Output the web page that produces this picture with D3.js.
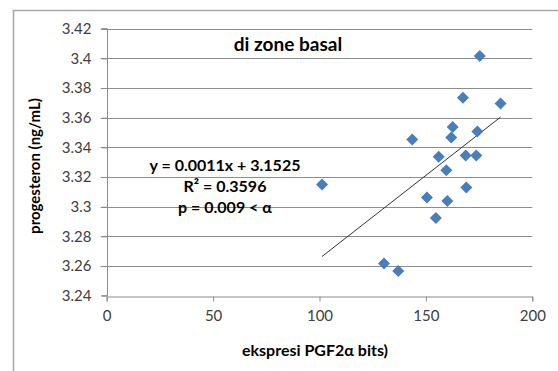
<!DOCTYPE html>
<html>
<head>
<meta charset="utf-8">
<script src="https://cdn.jsdelivr.net/npm/d3@7"></script>
<style>
  body { margin: 0; background: #fff; }
  svg { display: block; font-family: Lato, "Open Sans", sans-serif; }
</style>
</head>
<body>
<svg id="chart" width="558" height="371"></svg>
<script>
// data
var pgf = [175.3, 167.4, 185.1, 162.6, 174.2, 161.9, 143.6, 156.0, 168.7, 173.7, 159.6, 101.2, 169.0, 150.5, 160.1, 154.7, 130.3, 137.0];
var prog = [3.4016, 3.3734, 3.3696, 3.3537, 3.3507, 3.3467, 3.3453, 3.3336, 3.3346, 3.3346, 3.3246, 3.3150, 3.3130, 3.3062, 3.3039, 3.2924, 3.2617, 3.2567];
var xTicks = [0, 50, 100, 150, 200];
var yTicks = [3.24, 3.26, 3.28, 3.3, 3.32, 3.34, 3.36, 3.38, 3.4, 3.42];
var trend = { slope: 0.00112, intercept: 3.1531 };
var eqLines = ["y = 0.0011x + 3.1525", "R² = 0.3596", "p = 0.009 < α"];

var svg = d3.select("#chart");
var plotLeft = 106.7, plotRight = 532.3, plotTop = 28.7, plotBottom = 295.7;

var x = d3.scaleLinear().domain([0, 200]).range([plotLeft, plotRight]);
var y = d3.scaleLinear().domain([3.24, 3.42]).range([plotBottom, plotTop]);

// outer frame (only top and left visible)
svg.append("path")
    .attr("d", "M13.5,371 L13.5,10.5 L558,10.5")
    .attr("fill", "none")
    .attr("stroke", "#a6a6a6")
    .attr("stroke-width", 1.5);

// grid lines
svg.append("g").selectAll("line")
    .data(yTicks.slice(1))
    .join("line")
    .attr("x1", plotLeft - 6).attr("x2", plotRight)
    .attr("y1", function(d) { return Math.round(y(d)) + 0.5; })
    .attr("y2", function(d) { return Math.round(y(d)) + 0.5; })
    .attr("stroke", "#8c8c8c")
    .attr("stroke-width", 1);

// y axis
var yAxis = svg.append("g")
    .attr("transform", "translate(" + (Math.round(plotLeft) + 0.5) + ",0)")
    .call(d3.axisLeft(y).tickValues(yTicks).tickSize(6).tickPadding(10)
        .tickFormat(function(d) { return String(+d.toFixed(2)); }));

// x axis
var xAxis = svg.append("g")
    .attr("transform", "translate(0," + (Math.round(plotBottom) + 0.5) + ")")
    .call(d3.axisBottom(x).tickValues(xTicks).tickSize(5).tickPadding(9));

[yAxis, xAxis].forEach(function(a) {
    a.select(".domain").attr("stroke", "#8c8c8c");
    a.selectAll(".tick line").attr("stroke", "#8c8c8c");
    a.selectAll("text")
        .attr("fill", "#404040")
        .style("font-size", "15px")
        .style("font-family", "Lato, sans-serif");
});
yAxis.select(".domain").attr("d", "M-6," + y(3.24) + "H0V" + y(3.42) + "H-6");

// trend line
var xMin = d3.min(pgf), xMax = d3.max(pgf);
svg.append("line")
    .attr("x1", x(xMin)).attr("y1", y(trend.slope * xMin + trend.intercept))
    .attr("x2", x(xMax)).attr("y2", y(trend.slope * xMax + trend.intercept))
    .attr("stroke", "#333")
    .attr("stroke-width", 1);

// points
var diamond = d3.symbol().type(d3.symbolSquare).size(72);
svg.append("g").selectAll("path")
    .data(d3.range(pgf.length))
    .join("path")
    .attr("d", diamond)
    .attr("transform", function(i) {
        return "translate(" + x(pgf[i]) + "," + y(prog[i]) + ") rotate(45)";
    })
    .attr("fill", "#4a7ebb");

// title
svg.append("text")
    .attr("x", 288).attr("y", 51)
    .attr("text-anchor", "middle")
    .style("font-size", "19px")
    .style("font-weight", "bold")
    .attr("fill", "#000")
    .text("di zone basal");

// equation box
svg.append("g").selectAll("text")
    .data(eqLines)
    .join("text")
    .attr("x", 225)
    .attr("y", function(d, i) { return 171 + i * 21; })
    .attr("text-anchor", "middle")
    .style("font-size", "16px")
    .style("font-weight", "bold")
    .attr("fill", "#000")
    .text(function(d) { return d; });

// axis titles
svg.append("text")
    .attr("x", 315).attr("y", 356)
    .attr("text-anchor", "middle")
    .style("font-size", "16px")
    .style("font-weight", "bold")
    .text("ekspresi PGF2α bits)");

svg.append("text")
    .attr("transform", "translate(40,166) rotate(-90)")
    .attr("text-anchor", "middle")
    .style("font-size", "15px")
    .style("font-weight", "bold")
    .text("progesteron (ng/mL)");
</script>
</body>
</html>
